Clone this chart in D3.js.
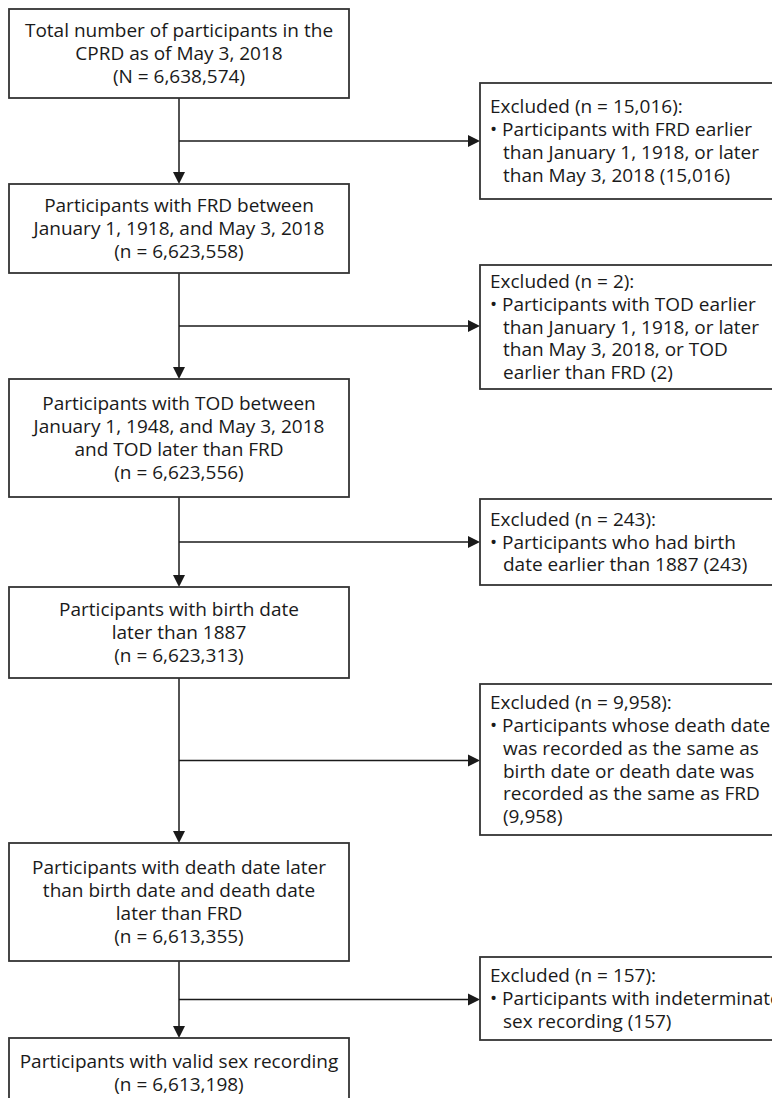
<!DOCTYPE html>
<html>
<head>
<meta charset="utf-8">
<script src="https://cdn.jsdelivr.net/npm/d3@7"></script>
<style>
  html, body { margin: 0; padding: 0; background: #fff; }
  #chart svg { display: block; }
</style>
</head>
<body>
<div id="chart"></div>
<script>
// flow steps (left column)
const mainLabels = [
  ["Total number of participants in the", "CPRD as of May 3, 2018"],
  ["Participants with FRD between", "January 1, 1918, and May 3, 2018"],
  ["Participants with TOD between", "January 1, 1948, and May 3, 2018", "and TOD later than FRD"],
  ["Participants with birth date", "later than 1887"],
  ["Participants with death date later", "than birth date and death date", "later than FRD"],
  ["Participants with valid sex recording"]
];
const mainSymbols = ["N", "n", "n", "n", "n", "n"];
const mainCounts = [6638574, 6623558, 6623556, 6623313, 6613355, 6613198];

// exclusions (right column)
const excludedCounts = [15016, 2, 243, 9958, 157];
const excludedReasons = [
  ["Participants with FRD earlier", "than January 1, 1918, or later", "than May 3, 2018 (15,016)"],
  ["Participants with TOD earlier", "than January 1, 1918, or later", "than May 3, 2018, or TOD", "earlier than FRD (2)"],
  ["Participants who had birth", "date earlier than 1887 (243)"],
  ["Participants whose death date", "was recorded as the same as", "birth date or death date was", "recorded as the same as FRD", "(9,958)"],
  ["Participants with indeterminate", "sex recording (157)"]
];

const width = 772;
const height = 1098;
const fmt = d3.format(",");
const lineH = 22.8;
const font = "'Open Sans', 'Noto Sans', sans-serif";
const fontSize = 19;

// layout
const mainX = 9, mainW = 340;
const mainTop = [9, 184, 379, 587, 843, 1038];
const mainH = [89, 89, 118, 91, 118, 70];
const sideX = 480, sideW = 300;
const sideTop = [83, 265, 499, 684, 957];
const sideBottom = [199, 389, 585, 835, 1040];
const cx = mainX + mainW / 2;

const svg = d3.select('#chart')
  .append('svg')
  .attr('width', width)
  .attr('height', height);

const ink = '#1a1a1a';

// connectors first so boxes sit on top
const links = svg.append('g').attr('class', 'links');
mainCounts.slice(1).forEach((d, i) => {
  const y0 = mainTop[i] + mainH[i];
  const y1 = mainTop[i + 1];
  const by = (y0 + y1) / 2;

  links.append('line')
    .attr('x1', cx).attr('x2', cx)
    .attr('y1', y0).attr('y2', y1 - 10)
    .attr('stroke', ink).attr('stroke-width', 1.5);
  links.append('path')
    .attr('d', `M${cx - 6},${y1 - 12} L${cx + 6},${y1 - 12} L${cx},${y1} Z`)
    .attr('fill', ink);

  links.append('line')
    .attr('x1', cx).attr('x2', sideX - 10)
    .attr('y1', by).attr('y2', by)
    .attr('stroke', ink).attr('stroke-width', 1.5);
  links.append('path')
    .attr('d', `M${sideX - 12},${by - 6} L${sideX - 12},${by + 6} L${sideX},${by} Z`)
    .attr('fill', ink);
});

// main boxes
const mainBoxes = svg.selectAll('.main-box')
  .data(mainLabels.map((lines, i) => ({
    lines: lines.concat(`(${mainSymbols[i]} = ${fmt(mainCounts[i])})`),
    top: mainTop[i], h: mainH[i]
  })))
  .enter().append('g')
  .attr('class', 'main-box');

mainBoxes.append('rect')
  .attr('x', mainX)
  .attr('y', d => d.top)
  .attr('width', mainW)
  .attr('height', d => d.h)
  .attr('fill', '#fff')
  .attr('stroke', '#333')
  .attr('stroke-width', 1.8);

mainBoxes.each(function (d) {
  const mid = d.top + d.h / 2;
  const y0 = mid - (d.lines.length - 1) / 2 * lineH;
  d3.select(this).selectAll('text')
    .data(d.lines)
    .enter().append('text')
    .attr('x', cx)
    .attr('y', (t, j) => y0 + j * lineH)
    .attr('dy', '0.35em')
    .attr('text-anchor', 'middle')
    .style('font-family', font)
    .style('font-size', fontSize + 'px')
    .style('fill', ink)
    .text(t => t);
});

// exclusion boxes
const sideBoxes = svg.selectAll('.side-box')
  .data(excludedCounts.map((n, i) => ({
    head: `Excluded (n = ${fmt(n)}):`,
    reasons: excludedReasons[i],
    top: sideTop[i], bottom: sideBottom[i]
  })))
  .enter().append('g')
  .attr('class', 'side-box');

sideBoxes.append('rect')
  .attr('x', sideX)
  .attr('y', d => d.top)
  .attr('width', sideW)
  .attr('height', d => d.bottom - d.top)
  .attr('fill', '#fff')
  .attr('stroke', '#333')
  .attr('stroke-width', 1.8);

sideBoxes.each(function (d) {
  const g = d3.select(this);
  const rows = [d.head].concat(d.reasons);
  const mid = (d.top + d.bottom) / 2;
  const y0 = mid - (rows.length - 1) / 2 * lineH;
  rows.forEach((t, j) => {
    const txt = g.append('text')
      .attr('y', y0 + j * lineH)
      .attr('dy', '0.35em')
      .style('font-family', font)
      .style('font-size', fontSize + 'px')
      .style('fill', ink);
    if (j === 0) {
      txt.attr('x', sideX + 10).text(t);
    } else if (j === 1) {
      txt.attr('x', sideX + 10).text('\u2022 ' + t);
    } else {
      txt.attr('x', sideX + 23).text(t);
    }
  });
});
</script>
</body>
</html>
